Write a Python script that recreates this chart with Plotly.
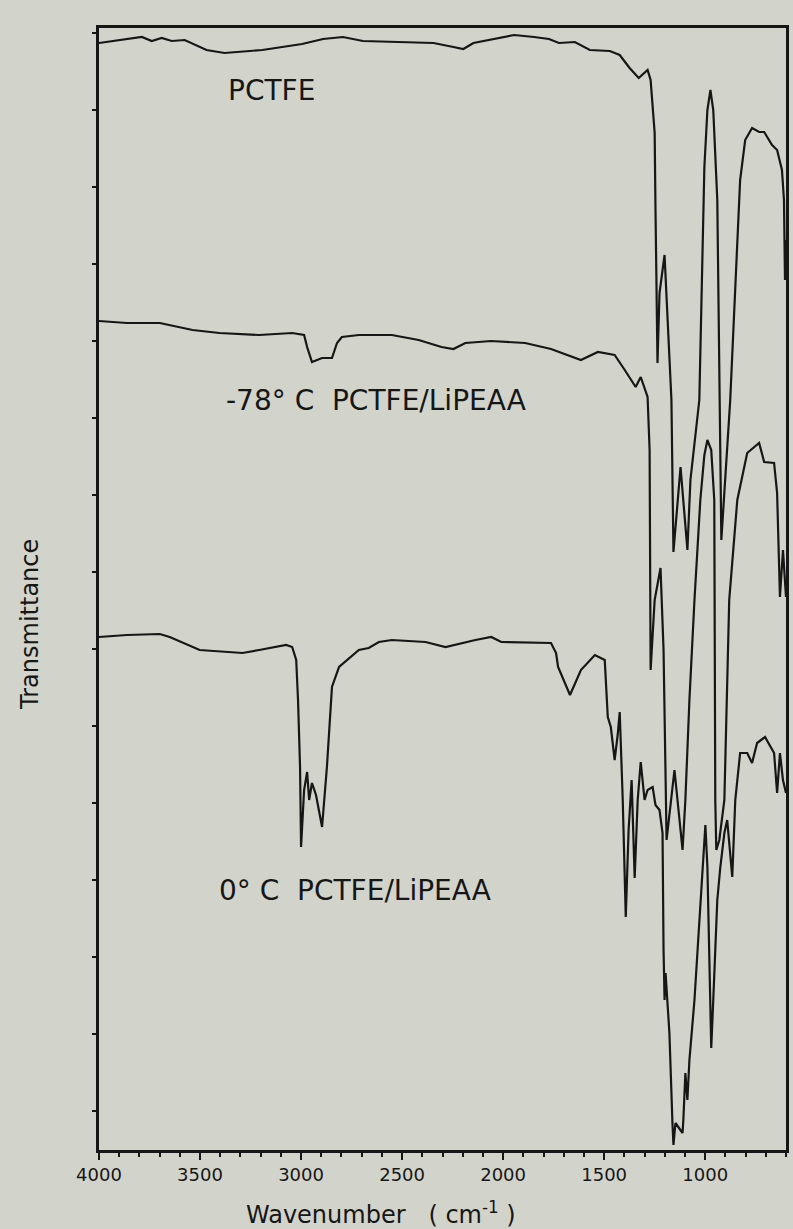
import plotly.graph_objects as go

# Infrared spectra, offset transmittance (arbitrary units) vs wavenumber (cm-1)
wn_pctfe = [4000, 3788, 3739, 3690, 3640, 3576, 3468, 3379, 3192, 2995, 2891, 2793, 2694, 2468,
            2344, 2246, 2197, 2147, 1995, 1945, 1847, 1773, 1724, 1645, 1571, 1472, 1423, 1374,
            1329, 1285, 1270, 1250, 1246, 1236, 1226, 1201, 1167, 1157, 1122, 1088, 1073, 1029,
            1004, 989, 974, 960, 940, 930, 920, 876, 827, 802, 768, 733, 708, 669, 644, 620,
            610, 605, 600]
t_pctfe = [110.7, 111.3, 110.9, 111.2, 110.9, 111.0, 110.0, 109.7, 110.0, 110.6, 111.1, 111.3,
           110.9, 110.8, 110.7, 110.3, 110.1, 110.7, 111.3, 111.5, 111.3, 111.1, 110.7, 110.8,
           110.0, 109.9, 109.5, 108.2, 107.2, 108.0, 107.0, 101.7, 94.3, 78.7, 85.7, 89.5,
           75.0, 59.8, 68.3, 60.0, 67.0, 75.0, 98.3, 104.0, 106.0, 104.0, 95.0, 75.0, 61.0,
           75.0, 97.0, 101.0, 102.2, 101.8, 101.8, 100.5, 100.0, 98.0, 95.0, 87.0, 91.0]

wn_m78 = [4000, 3862, 3699, 3537, 3404, 3207, 3044, 2985, 2970, 2946, 2896, 2847, 2822, 2798,
          2714, 2551, 2418, 2305, 2246, 2187, 2059, 1891, 1763, 1615, 1531, 1448, 1398, 1344,
          1319, 1285, 1275, 1270, 1250, 1221, 1206, 1196, 1191, 1152, 1112, 1098, 1078, 1053,
          1024, 1004, 989, 970, 955, 950, 945, 930, 905, 881, 841, 792, 733, 708, 659, 644,
          630, 615, 600]
t_m78 = [82.9, 82.7, 82.7, 82.0, 81.7, 81.5, 81.7, 81.5, 80.3, 78.8, 79.2, 79.2, 80.7, 81.3,
         81.5, 81.5, 81.0, 80.3, 80.1, 80.7, 80.9, 80.7, 80.1, 79.0, 79.8, 79.5, 78.0, 76.3,
         77.3, 75.3, 70.0, 48.0, 55.0, 58.2, 50.0, 35.0, 31.0, 38.0, 30.0, 35.0, 45.0, 55.0,
         65.0, 69.5, 71.0, 70.0, 65.0, 35.0, 30.0, 31.0, 35.0, 55.0, 65.0, 69.7, 70.7, 68.8,
         68.7, 65.7, 55.3, 60.0, 55.3]

wn_0c = [4000, 3862, 3699, 3650, 3502, 3290, 3207, 3074, 3044, 3024,
         3015, 3005, 3000, 2985, 2970, 2960, 2946, 2926, 2896, 2872,
         2847, 2812, 2714, 2665, 2615, 2551, 2384, 2285, 2137, 2059,
         2009, 1763, 1738, 1728, 1669, 1615, 1546, 1497, 1482, 1467,
         1448, 1433, 1423, 1408, 1393, 1379, 1364, 1349, 1334, 1319,
         1300, 1285, 1260, 1246, 1226, 1211, 1206, 1201, 1196, 1187,
         1177, 1162, 1157, 1147, 1122, 1112, 1108, 1098, 1088, 1078,
         1053, 1024, 1004, 999, 989, 974, 970, 960, 940, 925,
         905, 891, 876, 866, 851, 827, 792, 768, 743, 704,
         659, 644, 630, 615, 600]
t_0c = [51.3, 51.5, 51.6, 51.3, 50.0, 49.7, 50.0, 50.5, 50.3, 49.0,
        45.0, 38.3, 30.3, 36.0, 37.8, 35.0, 36.7, 35.5, 32.3, 38.3,
        46.3, 48.3, 50.0, 50.2, 50.8, 51.0, 50.8, 50.3, 51.0, 51.3,
        50.8, 50.7, 49.7, 48.3, 45.5, 48.0, 49.5, 49.0, 43.3, 42.3,
        39.0, 41.5, 43.8, 35.0, 23.3, 32.0, 37.0, 27.2, 35.0, 38.8,
        35.0, 36.0, 36.3, 34.5, 34.0, 31.7, 20.0, 15.0, 17.7, 15.0,
        11.7, 2.7, 0.5, 2.7, 2.0, 1.7, 3.0, 7.7, 5.0, 9.0,
        15.0, 25.0, 30.7, 32.5, 28.3, 15.0, 10.2, 15.0, 25.0, 28.3,
        31.7, 33.0, 30.0, 27.3, 35.0, 39.7, 39.7, 38.7, 40.7, 41.3,
        39.7, 35.7, 39.7, 37.0, 35.7]

series_labels = ["PCTFE", "-78°\u00a0C\u00a0\u00a0PCTFE/LiPEAA", "0°\u00a0C\u00a0\u00a0PCTFE/LiPEAA"]
label_wn = [3370, 3379, 3418]
label_t = [106.0, 75.0, 26.0]

x_tick_values = [4000, 3500, 3000, 2500, 2000, 1500, 1000]

INK = "#161616"
BG = "#d2d4cb"
FONT = "DejaVu Sans"

fig = go.Figure()
for wn, t in [(wn_pctfe, t_pctfe), (wn_m78, t_m78), (wn_0c, t_0c)]:
    fig.add_trace(go.Scatter(x=wn, y=t, mode="lines",
                             line=dict(color=INK, width=2.2),
                             showlegend=False, hoverinfo="skip"))

for text, xw, yt in zip(series_labels, label_wn, label_t):
    fig.add_annotation(x=xw, y=yt, text=text, showarrow=False,
                       xanchor="left", yanchor="middle",
                       font=dict(family=FONT, size=28, color=INK))

fig.add_annotation(xref="paper", yref="paper", x=0.41, y=0, yshift=-63,
                   text="Wavenumber\u00a0\u00a0\u00a0(\u00a0cm<sup>-1</sup>\u00a0)",
                   showarrow=False, xanchor="center", yanchor="middle",
                   font=dict(family=FONT, size=24, color=INK))
fig.add_annotation(xref="paper", yref="paper", x=0, xshift=-69, y=0.468,
                   text="Transmittance", textangle=-90, showarrow=False,
                   xanchor="center", yanchor="middle",
                   font=dict(family=FONT, size=24, color=INK))

fig.update_xaxes(range=[4000, 600], tickvals=x_tick_values,
                 ticktext=[str(v) for v in x_tick_values],
                 ticks="outside", ticklen=7, tickwidth=2, tickcolor=INK,
                 minor=dict(dtick=100, tick0=0, ticks="outside", ticklen=4,
                            tickwidth=1.5, tickcolor=INK, showgrid=False),
                 showline=True, linecolor=INK, linewidth=2.5, mirror=True,
                 showgrid=False, zeroline=False,
                 tickfont=dict(family=FONT, size=18, color=INK))
fig.update_yaxes(range=[0, 112.2], tick0=3.9, dtick=7.7, showticklabels=False,
                 ticks="outside", ticklen=4, tickwidth=1.5, tickcolor=INK,
                 showline=True, linecolor=INK, linewidth=2.5, mirror=True,
                 showgrid=False, zeroline=False)

fig.update_layout(width=793, height=1229,
                  margin=dict(l=99, r=4, t=28, b=79),
                  paper_bgcolor=BG, plot_bgcolor=BG)

fig.write_html("out.html")
